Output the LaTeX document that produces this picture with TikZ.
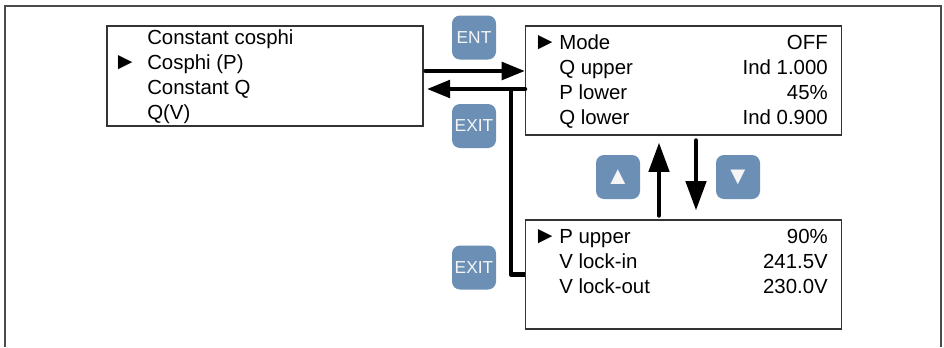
\documentclass[tikz,border=0pt]{standalone}
\usepackage{fontspec}
\setmainfont{Liberation Sans}
\usetikzlibrary{arrows.meta, positioning, calc}
\definecolor{keyblue}{RGB}{108,143,181}
\definecolor{keytext}{RGB}{245,245,245}

\tikzset{
  menubox/.style={draw=black!80, line width=0.8pt, minimum width=237pt,
    minimum height=81.75pt, inner sep=0pt},
  key/.style={fill=keyblue, rounded corners=6pt, minimum width=33pt,
    minimum height=33pt, inner sep=0pt, text=keytext,
    font=\fontsize{13}{13}\selectfont},
  item/.style={anchor=base west, inner sep=0pt,
    font=\fontsize{15.3}{18}\selectfont},
  val/.style={anchor=base east, inner sep=0pt,
    font=\fontsize{15.3}{18}\selectfont},
  marker/.style={anchor=base west, inner sep=0pt,
    font=\fontsize{18}{18}\selectfont},
  harr/.style={-{Triangle[length=17.5pt,width=13pt]}, line width=3.4pt,
    line cap=round},
  varr/.style={-{Triangle[length=22pt,width=15pt]}, line width=3.4pt,
    line cap=round},
}

\begin{document}
\begin{tikzpicture}[x=0.75pt, y=-0.75pt]
  \useasboundingbox (0,0) rectangle (944,347);
  % outer frame, open at the bottom
  \draw[black!70, line width=1.5pt] (4.5,347) -- (4.5,6) -- (940.5,6) -- (940.5,347);

  % menus
  \node[menubox, minimum height=75pt] (list) at (265,76) {};
  \node[menubox] (sub1) at (683.5,80.5) {};
  \node[menubox] (sub2) at (683.5,274.5) {};

  % keys
  \node[key] (ent) at (474,37.5) {ENT};
  \node[key] (exit1) at (474,126) {EXIT};
  \node[key] (exit2) at (474,267.5) {EXIT};
  \node[key, font=\fontsize{19}{19}\selectfont] (up) at (618,177) {▲};
  \node[key, font=\fontsize{19}{19}\selectfont] (down) at (738,177) {▼};

  % left menu
  \node[marker] (mk0) at (113,69) {►};
  \node[item] (m1) at (147,44) {Constant cosphi};
  \node[item] (m2) at (147,69) {Cosphi (P)};
  \node[item] (m3) at (147,94) {Constant Q};
  \node[item] (m4) at (147,119) {Q(V)};

  % first page
  \node[marker] (mk1) at (533,49) {►};
  \node[item] (a1) at (559,49) {Mode};
  \node[item] (a2) at (559,74) {Q upper};
  \node[item] (a3) at (559,99) {P lower};
  \node[item] (a4) at (559,124) {Q lower};
  \node[val] (v1) at (828,49) {OFF};
  \node[val] (v2) at (828,74) {Ind 1.000};
  \node[val] (v3) at (828,99) {45\%};
  \node[val] (v4) at (828,124) {Ind 0.900};

  % second page
  \node[marker] (mk2) at (533,243) {►};
  \node[item] (b1) at (559,243) {P upper};
  \node[item] (b2) at (559,268) {V lock-in};
  \node[item] (b3) at (559,293) {V lock-out};
  \node[val] (w1) at (828,243) {90\%};
  \node[val] (w2) at (828,268) {241.5V};
  \node[val] (w3) at (828,293) {230.0V};

  % connectors
  \coordinate (entrow) at (0,71);
  \coordinate (exitrow) at (0,89);
  \coordinate (jn) at (511,0);
  \coordinate (upx) at (659,0);
  \coordinate (dnx) at (696,0);
  \draw[harr, shorten <=1.5pt] (list.east |- entrow) -- (sub1.west |- entrow);
  \draw[harr, shorten >=2.5pt] (sub1.west |- exitrow) -- (list.east |- exitrow);
  \draw[line width=3.4pt, line join=round] (sub2.west) -| (jn |- exitrow);
  \draw[varr, shorten <=3pt, shorten >=5.25pt] (sub2.north -| upx) -- (sub1.south -| upx);
  \draw[varr, shorten <=3.75pt, shorten >=6.75pt] (sub1.south -| dnx) -- (sub2.north -| dnx);
\end{tikzpicture}
\end{document}
